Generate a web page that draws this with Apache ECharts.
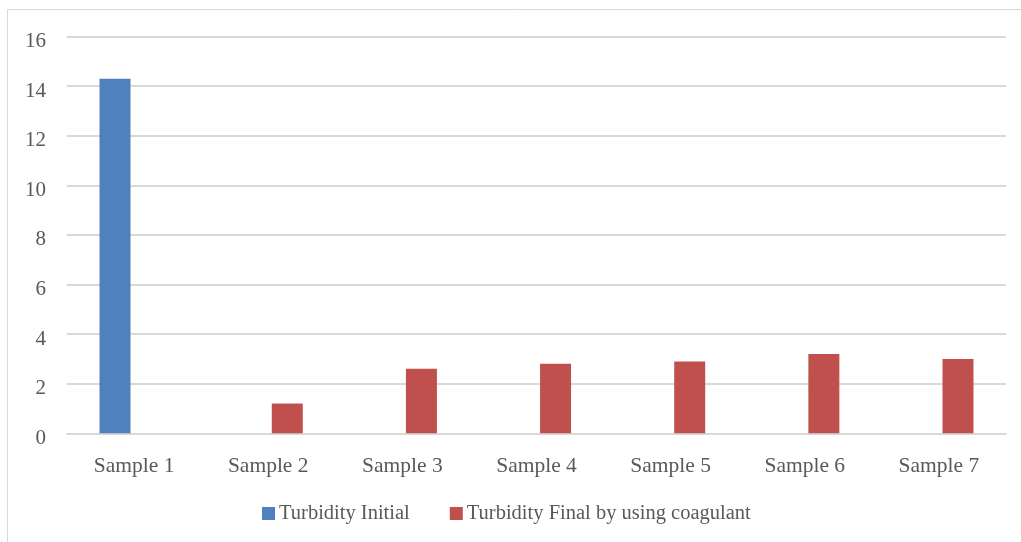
<!DOCTYPE html>
<html>
<head>
<meta charset="utf-8">
<script src="https://cdn.jsdelivr.net/npm/echarts@6/dist/echarts.min.js"></script>
<style>
  html, body { margin: 0; padding: 0; background: #ffffff; }
  #chart { width: 1021px; height: 542px; }
</style>
</head>
<body>
<div id="chart"></div>
<script>
// Turbidity readings per sample
const categories = ['Sample 1', 'Sample 2', 'Sample 3', 'Sample 4', 'Sample 5', 'Sample 6', 'Sample 7'];
const turbidityInitial = [14.3, null, null, null, null, null, null];
const turbidityFinal = [null, 1.2, 2.6, 2.8, 2.9, 3.2, 3.0];
const seriesNames = ['Turbidity Initial', 'Turbidity Final by using coagulant'];

const textColor = '#595959';
const gridColor = '#D9D9D9';
const fontFamily = '"Liberation Serif", "Times New Roman", serif';

const chart = echarts.init(document.getElementById('chart'), null, { renderer: 'canvas' });

chart.setOption({
  backgroundColor: '#ffffff',
  animation: false,
  textStyle: { fontFamily: fontFamily },
  graphic: [{
    type: 'rect',
    shape: { x: 7.5, y: 9.5, width: 1100, height: 600 },
    style: { fill: 'none', stroke: gridColor, lineWidth: 1 },
    silent: true,
    z: -10
  }],
  grid: { left: 67, right: 15, top: 36.5, bottom: 108.7, containLabel: false },
  legend: {
    data: seriesNames,
    top: 503,
    left: 262,
    padding: 0,
    icon: 'rect',
    itemWidth: 13,
    itemHeight: 13,
    itemGap: 40,
    textStyle: { color: textColor, fontSize: 20.5, fontFamily: fontFamily, padding: [13, 0, 0, -1] }
  },
  xAxis: {
    type: 'category',
    data: categories,
    axisLine: { show: true, lineStyle: { color: gridColor, width: 2 } },
    axisTick: { show: false },
    axisLabel: { color: textColor, fontSize: 21.5, fontFamily: fontFamily, margin: 22 }
  },
  yAxis: {
    type: 'value',
    min: 0,
    max: 16,
    interval: 2,
    axisLine: { show: false },
    axisTick: { show: false },
    splitLine: { lineStyle: { color: gridColor, width: 2 } },
    axisLabel: {
      color: textColor,
      fontFamily: fontFamily,
      margin: 21,
      formatter: '{v|{value}}',
      rich: {
        v: { color: textColor, fontSize: 21, fontFamily: fontFamily, padding: [10, 0, 0, 0] }
      }
    }
  },
  series: [
    {
      name: seriesNames[0],
      type: 'bar',
      data: turbidityInitial,
      barWidth: 31,
      barGap: '23%',
      itemStyle: { color: '#4F81BD' }
    },
    {
      name: seriesNames[1],
      type: 'bar',
      data: turbidityFinal,
      barWidth: 31,
      barGap: '23%',
      itemStyle: { color: '#C0504D' }
    }
  ]
});
</script>
</body>
</html>
